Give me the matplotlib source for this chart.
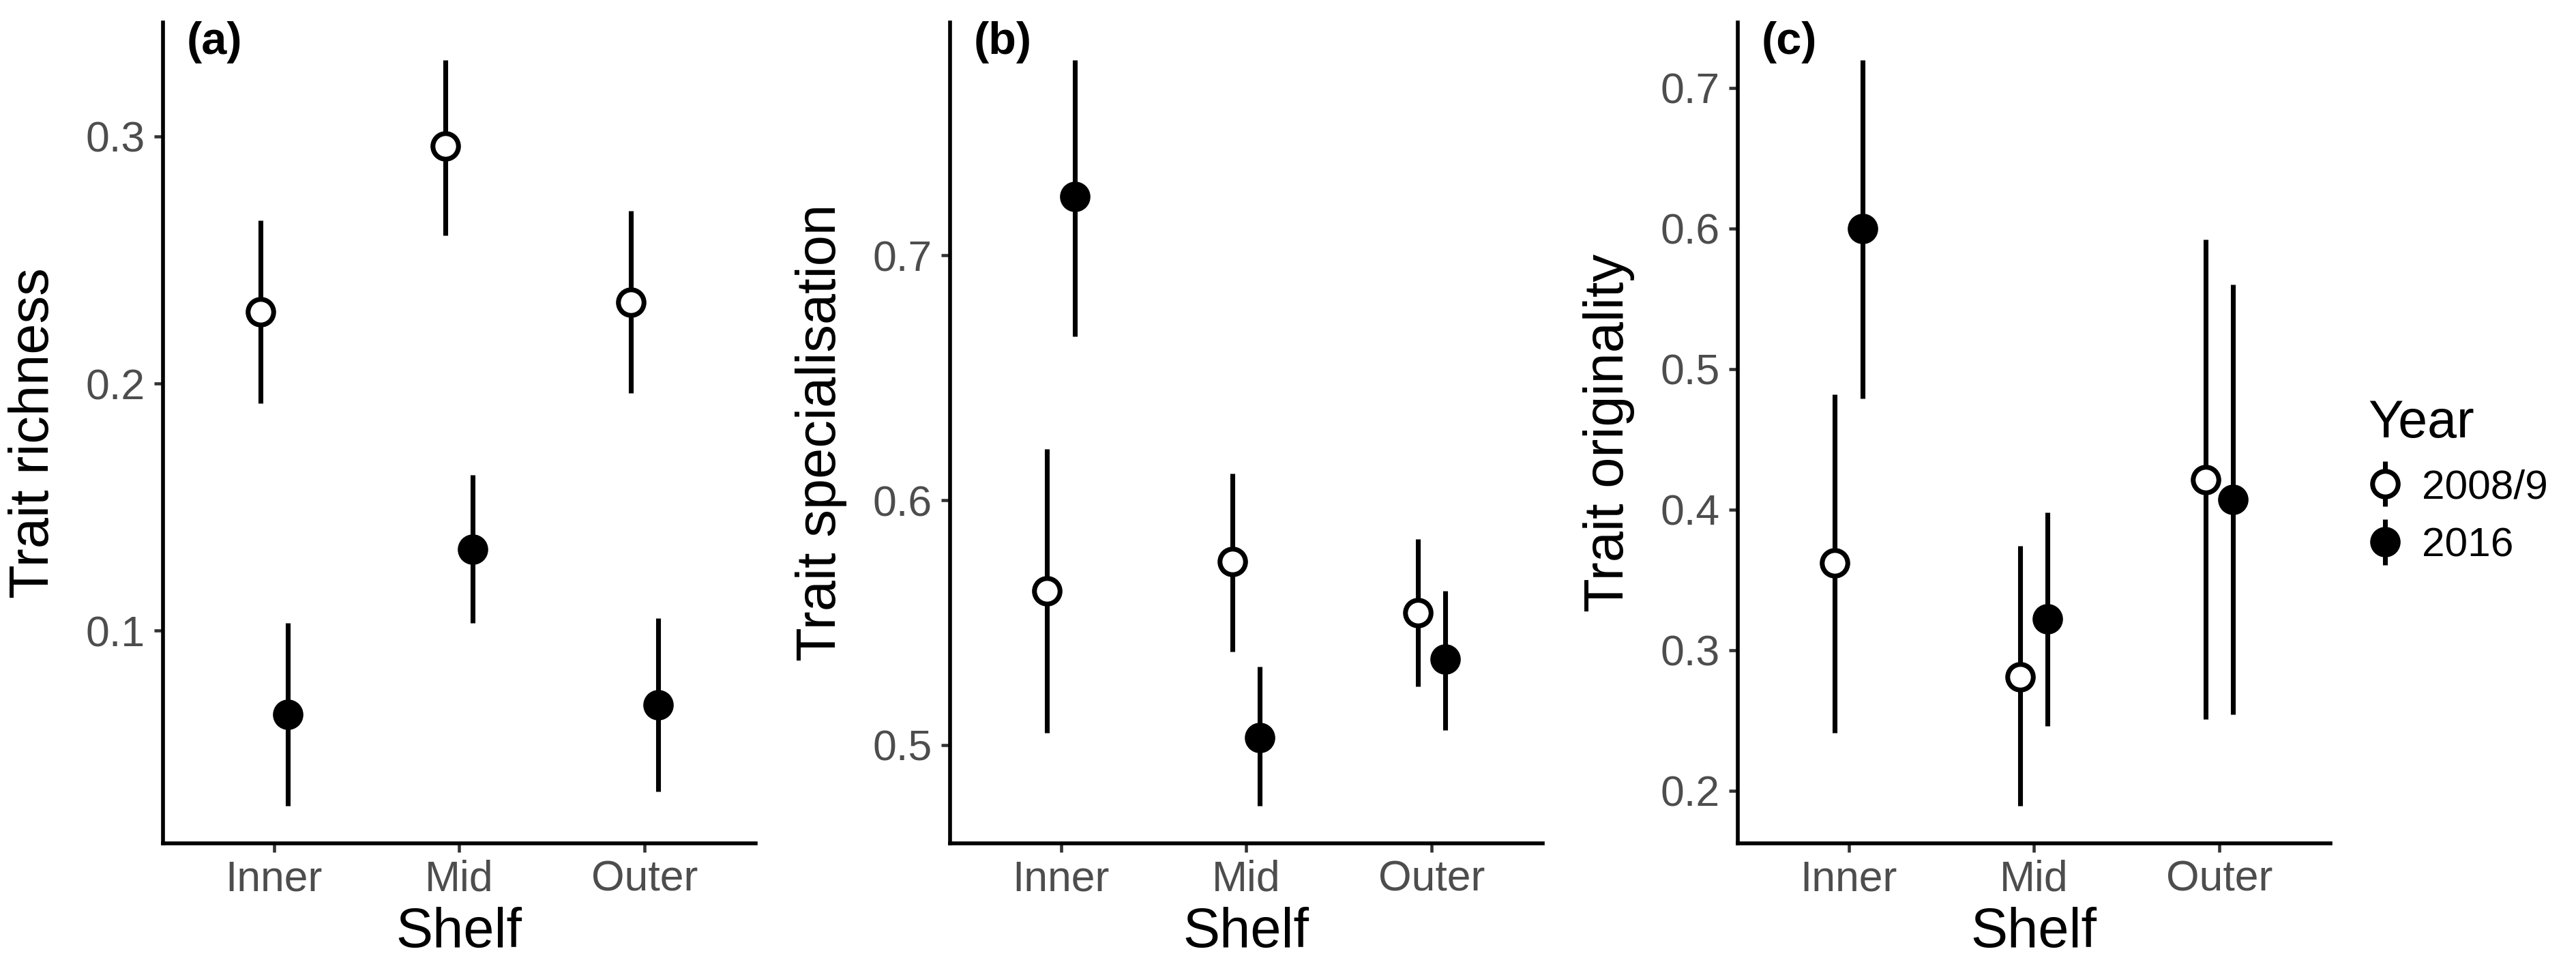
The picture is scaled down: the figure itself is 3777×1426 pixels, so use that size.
import matplotlib

matplotlib.use("Agg")
import matplotlib.pyplot as plt
import numpy as np
from matplotlib.legend_handler import HandlerErrorbar

plt.rcParams["font.family"] = ["Liberation Sans", "DejaVu Sans"]

shelves = ["Inner", "Mid", "Outer"]
years = ["2008/9", "2016"]

# trait richness (mean, lower, upper) per year
rich_0809 = [0.229, 0.296, 0.233]
rich_0809_lo = [0.192, 0.260, 0.196]
rich_0809_hi = [0.266, 0.331, 0.270]
rich_2016 = [0.066, 0.133, 0.070]
rich_2016_lo = [0.029, 0.103, 0.035]
rich_2016_hi = [0.103, 0.163, 0.105]

# trait specialisation
spec_0809 = [0.563, 0.575, 0.554]
spec_0809_lo = [0.505, 0.538, 0.524]
spec_0809_hi = [0.621, 0.611, 0.584]
spec_2016 = [0.724, 0.503, 0.535]
spec_2016_lo = [0.667, 0.475, 0.506]
spec_2016_hi = [0.780, 0.532, 0.563]

# trait originality
orig_0809 = [0.362, 0.281, 0.421]
orig_0809_lo = [0.241, 0.189, 0.251]
orig_0809_hi = [0.482, 0.374, 0.592]
orig_2016 = [0.600, 0.322, 0.407]
orig_2016_lo = [0.479, 0.246, 0.254]
orig_2016_hi = [0.720, 0.398, 0.560]

panels = [
    ("(a)", "Trait richness", [0.1, 0.2, 0.3],
     (rich_0809, rich_0809_lo, rich_0809_hi), (rich_2016, rich_2016_lo, rich_2016_hi)),
    ("(b)", "Trait specialisation", [0.5, 0.6, 0.7],
     (spec_0809, spec_0809_lo, spec_0809_hi), (spec_2016, spec_2016_lo, spec_2016_hi)),
    ("(c)", "Trait originality", [0.2, 0.3, 0.4, 0.5, 0.6, 0.7],
     (orig_0809, orig_0809_lo, orig_0809_hi), (orig_2016, orig_2016_lo, orig_2016_hi)),
]

fig = plt.figure(figsize=(3777 / 300, 1426 / 300), dpi=300)
lefts = [0.0632, 0.3687, 0.6745]
bottom, height, width = 0.1333, 0.8436, 0.2301

x = np.arange(len(shelves))
dodge = 0.074
handles = []
for left, (tag, ylabel, ticks, old, new) in zip(lefts, panels):
    ax = fig.add_axes([left, bottom, width, height])
    lo_all, hi_all = [], []
    for (mean, lo, hi), off, face in [(old, -dodge, "white"), (new, dodge, "black")]:
        mean, lo, hi = map(np.asarray, (mean, lo, hi))
        h = ax.errorbar(
            x + off, mean, yerr=[mean - lo, hi - mean],
            fmt="o", color="black", ecolor="black", elinewidth=1.7, capsize=0,
            markersize=9, markerfacecolor=face, markeredgecolor="black",
            markeredgewidth=1.7, zorder=3,
        )
        handles.append(h)
        lo_all.extend(lo)
        hi_all.extend(hi)
    # ggplot-style 5% expansion
    ymin, ymax = min(lo_all), max(hi_all)
    pad = 0.05 * (ymax - ymin)
    ax.set_ylim(ymin - pad, ymax + pad)
    ax.set_xlim(-0.6, 2.6)
    ax.set_xticks(x)
    ax.set_xticklabels(shelves)
    ax.set_yticks(ticks)
    ax.set_yticklabels([f"{t:.1f}" for t in ticks])
    for side in ["top", "right"]:
        ax.spines[side].set_visible(False)
    for side in ["left", "bottom"]:
        ax.spines[side].set_linewidth(1.35)
    ax.tick_params(labelsize=15, labelcolor="#4D4D4D", width=1.1, length=3.2, color="#333333")
    ax.tick_params(axis="y", pad=3.1)
    ax.tick_params(axis="x", pad=2.4)
    ax.set_xlabel("Shelf", fontsize=19.5, labelpad=2.5)
    ax.set_ylabel(ylabel, fontsize=19.5, labelpad=9)
    ax.text(0.04, 0.976, tag, transform=ax.transAxes, fontsize=16, fontweight="bold", va="center", ha="left")

fig.legend(
    handles[-2:], years, title="Year", loc="center left", bbox_to_anchor=(0.905, 0.505),
    frameon=False, fontsize=14.5, title_fontsize=18.5, alignment="left",
    handlelength=0.8, handletextpad=0.5, labelspacing=0.5,
    handler_map={type(handles[-1]): HandlerErrorbar(xerr_size=0.55)},
)

fig.savefig("out.png", dpi=300)
